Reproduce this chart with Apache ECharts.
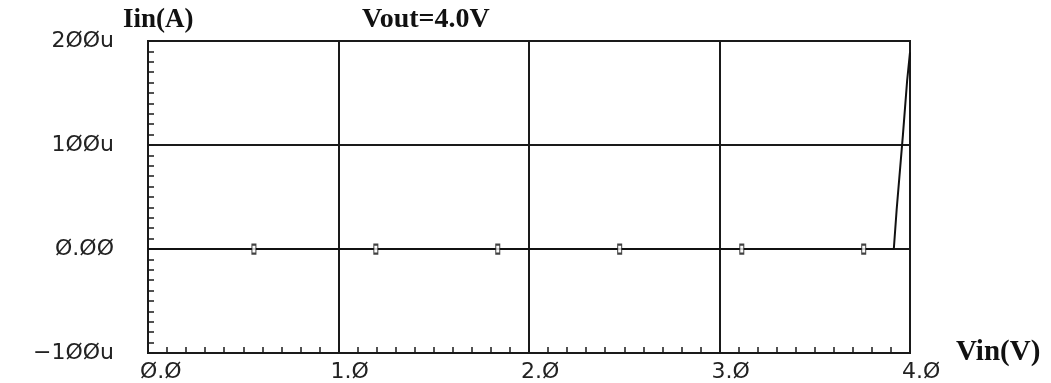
<!DOCTYPE html>
<html>
<head>
<meta charset="utf-8">
<script src="https://cdn.jsdelivr.net/npm/echarts@6/dist/echarts.min.js"></script>
<style>
    html, body { margin: 0; padding: 0; background: #fff; }
    #main { width: 1051px; height: 383px; }
</style>
</head>
<body>
<div id="main"></div>
<script>
// 数据 (电流单位: uA)
var traceX = [0, 3.915, 3.93, 3.963, 3.985, 4.0];
var traceY = [0, 0, 38, 110, 162, 189];
var markerX = [0.556, 1.196, 1.836, 2.476, 3.117, 3.757];
var markerY = [0, 0, 0, 0, 0, 0];
var xTickLabels = ['Ø.Ø', '1.Ø', '2.Ø', '3.Ø', '4.Ø'];
var yTickValues = [-100, 0, 100, 200];
var yTickLabels = ['−1ØØu', 'Ø.ØØ', '1ØØu', '2ØØu'];

(function() {
    //1.实例化对象
    var myChart = echarts.init(document.querySelector("#main"));

    var lineData = traceX.map(function(x, i) { return [x, traceY[i]]; });
    var markData = markerX.map(function(x, i) { return [x, markerY[i]]; });

    var axisColor = '#1a1a1a';
    var labelFont = "'DejaVu Sans', sans-serif";
    var titleFont = "'Liberation Serif', 'DejaVu Serif', serif";

    //2.指定配置项和数据
    var option = {
        backgroundColor: '#fff',
        animation: false,
        title: {
            text: 'Vout=4.0V',
            left: 357,
            top: 1,
            textStyle: {
                fontFamily: titleFont,
                fontWeight: 'bold',
                fontSize: 28,
                color: '#111'
            }
        },
        grid: {
            left: 148,
            right: 141,
            top: 41,
            bottom: 29,
            show: true,
            borderColor: axisColor,
            borderWidth: 2
        },
        xAxis: {
            type: 'value',
            min: 0,
            max: 4,
            interval: 1,
            name: 'Vin(V)',
            nameLocation: 'end',
            nameGap: 46,
            nameTextStyle: {
                fontFamily: titleFont,
                fontWeight: 'bold',
                fontSize: 29,
                color: '#111',
                padding: [16, 0, 0, 0]
            },
            axisLine: {
                onZero: false,
                lineStyle: { color: axisColor, width: 2 }
            },
            axisTick: {
                inside: true,
                length: 6,
                lineStyle: { color: axisColor, width: 1.5 }
            },
            minorTick: {
                show: true,
                splitNumber: 10,
                length: 6,
                lineStyle: { color: axisColor, width: 1.5 }
            },
            splitLine: {
                show: true,
                lineStyle: { color: axisColor, width: 2 }
            },
            axisLabel: {
                margin: 8,
                align: 'left',
                padding: [0, 0, 0, -8],
                fontFamily: labelFont,
                fontSize: 22,
                color: '#222',
                formatter: function(v) {
                    return xTickLabels[Math.round(v)];
                }
            }
        },
        yAxis: {
            type: 'value',
            min: -100,
            max: 200,
            interval: 100,
            name: 'Iin(A)',
            nameLocation: 'end',
            nameGap: 7,
            nameTextStyle: {
                fontFamily: titleFont,
                fontWeight: 'bold',
                fontSize: 27,
                color: '#111',
                align: 'left',
                padding: [0, 0, 0, -25]
            },
            axisLine: {
                onZero: false,
                lineStyle: { color: axisColor, width: 2 }
            },
            axisTick: {
                inside: true,
                length: 6,
                lineStyle: { color: axisColor, width: 1.5 }
            },
            minorTick: {
                show: true,
                splitNumber: 10,
                length: 6,
                lineStyle: { color: axisColor, width: 1.5 }
            },
            splitLine: {
                show: true,
                lineStyle: { color: axisColor, width: 2 }
            },
            axisLabel: {
                margin: 34,
                padding: [0, 0, 16, 0],
                fontFamily: labelFont,
                fontSize: 22,
                color: '#222',
                formatter: function(v) {
                    var i = yTickValues.indexOf(Math.round(v));
                    return i >= 0 ? yTickLabels[i] : '';
                }
            }
        },
        series: [{
                name: 'Iin',
                type: 'line',
                data: lineData,
                showSymbol: false,
                lineStyle: { color: '#111', width: 2 },
                z: 3
            },
            {
                // 小方块标记
                name: 'marker',
                type: 'scatter',
                data: markData,
                symbol: 'rect',
                symbolSize: [4, 9],
                itemStyle: {
                    color: '#fff',
                    borderColor: '#111',
                    borderWidth: 1.5
                },
                z: 4
            }
        ]
    };
    //3.把配置项给实例对象
    myChart.setOption(option);
    //4.让图表跟随屏幕自动去适应
    window.addEventListener("resize", function() {
        myChart.resize();
    });
})();
</script>
</body>
</html>
